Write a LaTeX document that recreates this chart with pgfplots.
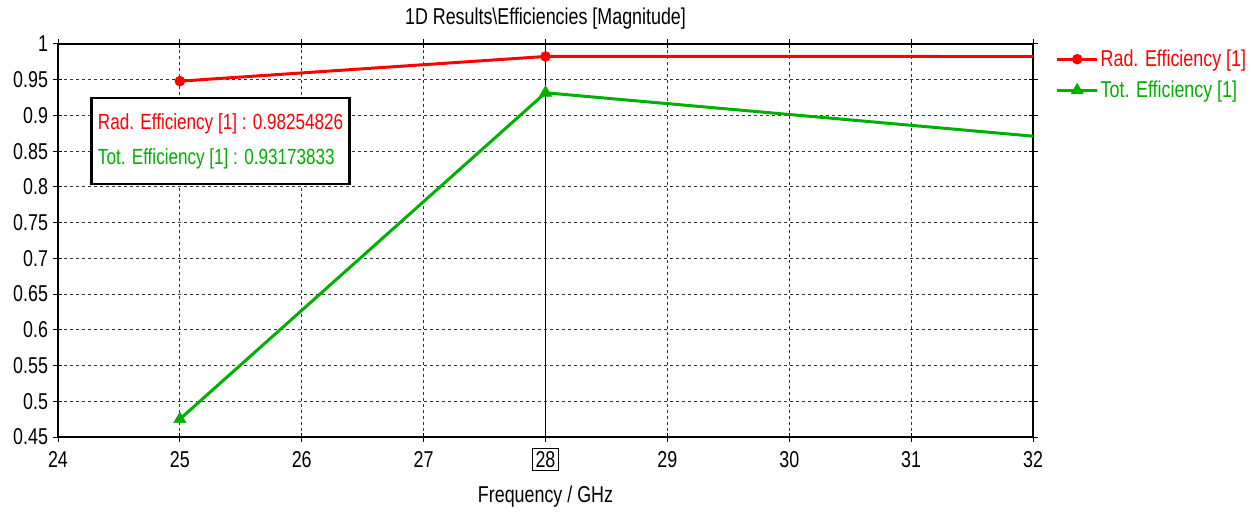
\documentclass[border=0pt]{standalone}
\usepackage{pgfplots}
\pgfplotsset{compat=1.18}
\usepackage{fontspec}
\setmainfont{Liberation Sans}[FakeStretch=0.78]
\definecolor{cstred}{RGB}{255,0,0}
\definecolor{cstgreen}{RGB}{0,175,0}
\begin{document}
\begin{tikzpicture}
\useasboundingbox (-58bp,-77bp) rectangle (1201bp,437bp);
\begin{axis}[
  scale only axis, width=975bp, height=393bp,
  xmin=24, xmax=32, ymin=0.45, ymax=1,
  xtick={24,25,26,27,29,30,31,32},
  extra x ticks={28},
  extra x tick style={grid=major, major grid style={solid, black, line width=1.5pt},
     tick label style={draw=black, inner sep=3pt, line width=1.2pt}},
  ytick={0.45,0.5,...,1.0},
  yticklabels={0.45,0.5,0.55,0.6,0.65,0.7,0.75,0.8,0.85,0.9,0.95,1},
  xticklabel style={font=\fontsize{23}{24}\selectfont, yshift=-6bp},
  yticklabel style={font=\fontsize{23}{24}\selectfont, xshift=-2bp},
  /pgf/number format/assume math mode=true,
  grid=major, major grid style={black!80, line width=1pt, dash pattern=on 3bp off 3bp},
  axis line style={black, line width=1.5pt},
  tick style={black, line width=1pt},
  tick align=center, major tick length=9bp,
  title={1D Results\textbackslash Efficiencies [Magnitude]},
  title style={font=\fontsize{23}{24}\selectfont, yshift=5bp},
  xlabel={Frequency / GHz},
  xlabel style={font=\fontsize{23}{24}\selectfont, yshift=-3bp},
  legend style={at={(1.02,0.995)}, anchor=north west, draw=none, fill=none,
     font=\fontsize{23}{24}\selectfont, row sep=9bp},
  legend cell align=left,
  legend image code/.code={
    \draw[#1, mark=none] (0bp,0bp) -- (40bp,0bp);
    \draw[#1, only marks] plot coordinates {(20bp,0bp)};},
  clip=false,
]
\addplot[cstred, line width=3pt, mark=*, mark indices={1,2}, mark size=5bp, mark options={solid, line width=0.5pt}] coordinates {
  (25,0.948) (28,0.98254826) (32,0.9825)
};
\addlegendentry{\textcolor{cstred}{Rad. Efficiency [1]}}
\addplot[cstgreen, line width=3pt, mark=triangle*, mark indices={1,2}, mark size=7bp, mark options={solid, line width=0.5pt}] coordinates {
  (25,0.475) (28,0.93173833) (32,0.871)
};
\addlegendentry{\textcolor{cstgreen}{Tot. Efficiency [1]}}
\node[anchor=north west, draw=black, line width=2.6pt, fill=white, inner sep=5bp,
  minimum width=258bp, minimum height=86bp, align=left,
  font=\fontsize{22}{35}\selectfont] at (axis cs:24.265,0.926)
  {\textcolor{cstred}{Rad. Efficiency [1] : 0.98254826}\\\textcolor{cstgreen}{Tot. Efficiency [1] : 0.93173833}};
\end{axis}
\end{tikzpicture}
\end{document}
